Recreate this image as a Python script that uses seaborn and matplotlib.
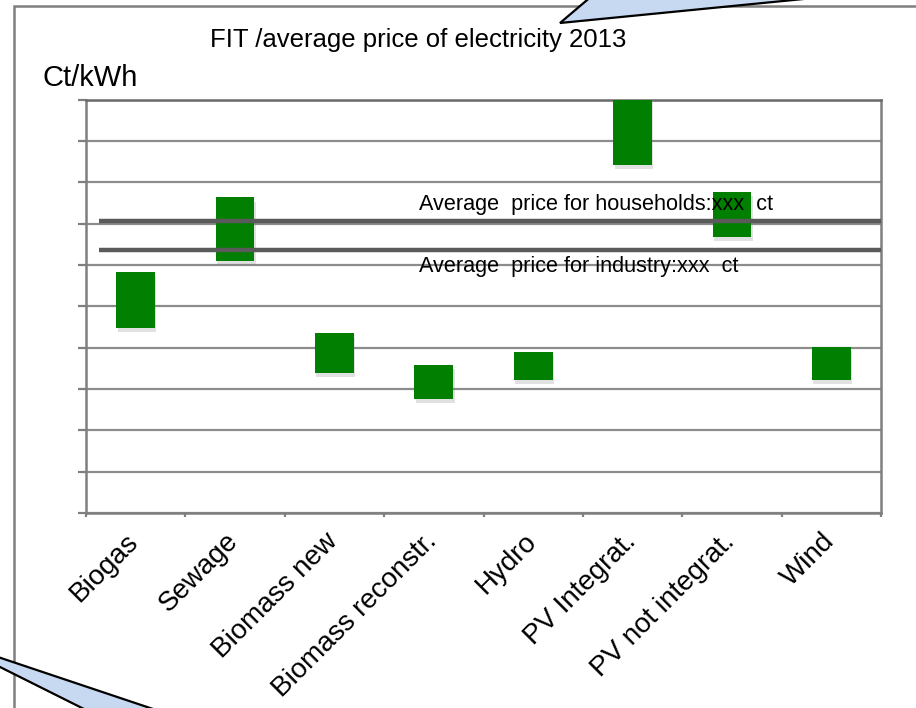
import numpy as np
import matplotlib
import matplotlib.pyplot as plt
import matplotlib.patheffects as pe
import matplotlib.transforms as mtransforms
from matplotlib.patches import Polygon, Rectangle
import seaborn as sns

matplotlib.use('agg')

# FIT range per technology (ct/kWh, axis has no printed scale)
categories = ['Biogas', 'Sewage', 'Biomass new', 'Biomass reconstr.', 'Hydro',
              'PV Integrat.', 'PV not integrat.', 'Wind']
fit_low = [4.48, 6.09, 3.39, 2.76, 3.22, 8.42, 6.68, 3.22]
fit_high = [5.84, 7.63, 4.35, 3.58, 3.89, 10.3, 7.77, 4.01]

price_households = 7.07
price_industry = 6.35
label_households = 'Average  price for households:xxx  ct'
label_industry = 'Average  price for industry:xxx  ct'

W, H = 916, 708


def px(x, y):
    # pixel position (y from top) -> figure fraction
    return (x / W, 1 - y / H)


sns.set_theme(style='white')
plt.rcParams['font.family'] = ['Liberation Sans', 'DejaVu Sans']
plt.rcParams['text.color'] = 'black'

fig = plt.figure(figsize=(W / 100, H / 100), dpi=100)
ax = fig.add_axes([86 / W, 1 - 513 / H, 795 / W, 413.5 / H])

sns.barplot(x=categories, y=fit_high, color='#007f00', saturation=1, width=0.39, ax=ax, zorder=3)
# turn the bars into floating bars (low..high)
for patch, lo, hi in zip(ax.patches, fit_low, fit_high):
    patch.set_y(lo)
    patch.set_height(hi - lo)
    patch.set_edgecolor('none')
    patch.set_path_effects([pe.SimplePatchShadow(offset=(1, -3), shadow_rgbFace='#888888', alpha=0.25),
                            pe.Normal()])

ax.set_xlim(-0.5, len(categories) - 0.5)
ax.set_ylim(0, 10)
ax.set_yticks(np.arange(0, 11, 1))
ax.set_yticklabels([])
ax.yaxis.grid(True, color='#8c8c8c', linewidth=1.6, zorder=0)
ax.xaxis.grid(False)
ax.set_axisbelow(True)

for side in ['left', 'bottom', 'right', 'top']:
    ax.spines[side].set_visible(True)
    ax.spines[side].set_color('#7f7f7f')
    ax.spines[side].set_linewidth(1.8)
ax.spines['top'].set_color('#6a6a6a')

ax.tick_params(axis='y', which='major', left=True, length=6, width=1.6, color='#7f7f7f')
ax.set_xticks(np.arange(-0.5, len(categories), 1), minor=True)
ax.tick_params(axis='x', which='minor', bottom=True, length=3, width=1.6, color='#7f7f7f')
ax.tick_params(axis='x', which='major', bottom=False, pad=5)
ax.set_xticks(np.arange(len(categories)))
ax.set_xticklabels(categories, rotation=45, ha='right', va='top', rotation_mode='anchor',
                   fontsize=20, color='black')
shift = mtransforms.ScaledTranslation(-10 / 100, 0, fig.dpi_scale_trans)
for lbl in ax.get_xticklabels():
    lbl.set_transform(lbl.get_transform() + shift)
ax.set_xlabel('')
ax.set_ylabel('')

# average electricity price lines
ax.hlines([price_households, price_industry], -0.37, len(categories) - 0.5,
          colors='#5a5a5a', linewidth=3.2, zorder=4)
ax.text(2.85, 7.45, label_households, fontsize=15.6, va='center', ha='left', color='black', zorder=5)
ax.text(2.85, 5.96, label_industry, fontsize=15.6, va='center', ha='left', color='black', zorder=5)

fig.text(*px(418, 40), 'FIT /average price of electricity 2013', fontsize=18.5,
         ha='center', va='center', color='black')
fig.text(*px(42, 78), 'Ct/kWh', fontsize=21, ha='left', va='center', color='black')

# slide frame and callout shapes
x0, y0 = px(14, 6)
fig.patches.append(Rectangle((x0, -0.05), 1.1, y0 + 0.05, transform=fig.transFigure,
                             fill=False, edgecolor='#7f7f7f', linewidth=1.8, zorder=0))
top_callout = [px(560, 23), px(593, -5), px(844, -5)]
fig.patches.append(Polygon(top_callout, closed=True, transform=fig.transFigure,
                           facecolor='#c6d9f1', edgecolor='black', linewidth=1.6, zorder=2))
bottom_callout = [px(-20, 651), px(162, 712), px(90, 712), px(-20, 657)]
fig.patches.append(Polygon(bottom_callout, closed=True, transform=fig.transFigure,
                           facecolor='#c6d9f1', edgecolor='black', linewidth=1.6, zorder=2))

fig.savefig('out.png', dpi=100)
plt.close()
